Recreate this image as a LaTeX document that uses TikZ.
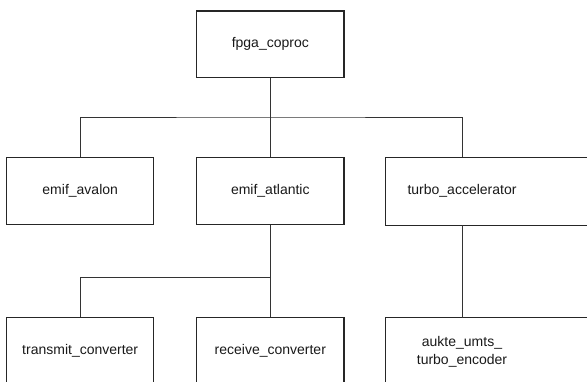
\documentclass[tikz,border=0pt]{standalone}
\usepackage{fontspec}
\setmainfont{Liberation Sans}
\begin{document}
\begin{tikzpicture}[x=1pt,y=-1pt,
  boxline/.style={draw=black!85, line width=1.1pt},
  box/.style={boxline, minimum width=147.3pt, minimum height=66.7pt, inner sep=0pt,
    font=\fontsize{14}{18}\selectfont, align=center, text=black!90},
  openbox/.style={box, draw=none, minimum width=152pt},
  wire/.style={draw=black!80, line width=1pt}]
\useasboundingbox (0,0) rectangle (587,381);
\clip (0,0) rectangle (587,381);
\node[box] (top) at (270.3,44.3) {fpga\_coproc};
\node[box] (avalon) at (80.2,191.2) {emif\_avalon};
\node[box] (atlantic) at (270.3,191.2) {emif\_atlantic};
\node[openbox] (turbo) at (462,191.2) {turbo\_accelerator};
\node[box] (transmit) at (80.2,351) {transmit\_converter};
\node[box] (receive) at (270.3,351) {receive\_converter};
\node[openbox] (aukte) at (462,351.5) {aukte\_umts\_\\turbo\_encoder};
\draw[boxline] ([xshift=100pt]turbo.north east) -- (turbo.north west) -- (turbo.south west) -- ([xshift=100pt]turbo.south east);
\draw[boxline] ([xshift=100pt]aukte.north east) -- (aukte.north west) -- (aukte.south west) -- ([xshift=100pt]aukte.south east);
\coordinate (bus1) at (270.3,117);
\coordinate (bus2) at (270.3,277);
\draw[wire] (top.south) -- (bus1);
\draw[wire] (avalon.north) |- (bus1) -| (turbo.north);
\draw[wire] (bus1) -- (atlantic.north);
\draw[wire] (atlantic.south) -- (receive.north);
\draw[wire] (transmit.north) |- (bus2);
\draw[wire] (turbo.south) -- (aukte.north);
\end{tikzpicture}
\end{document}
